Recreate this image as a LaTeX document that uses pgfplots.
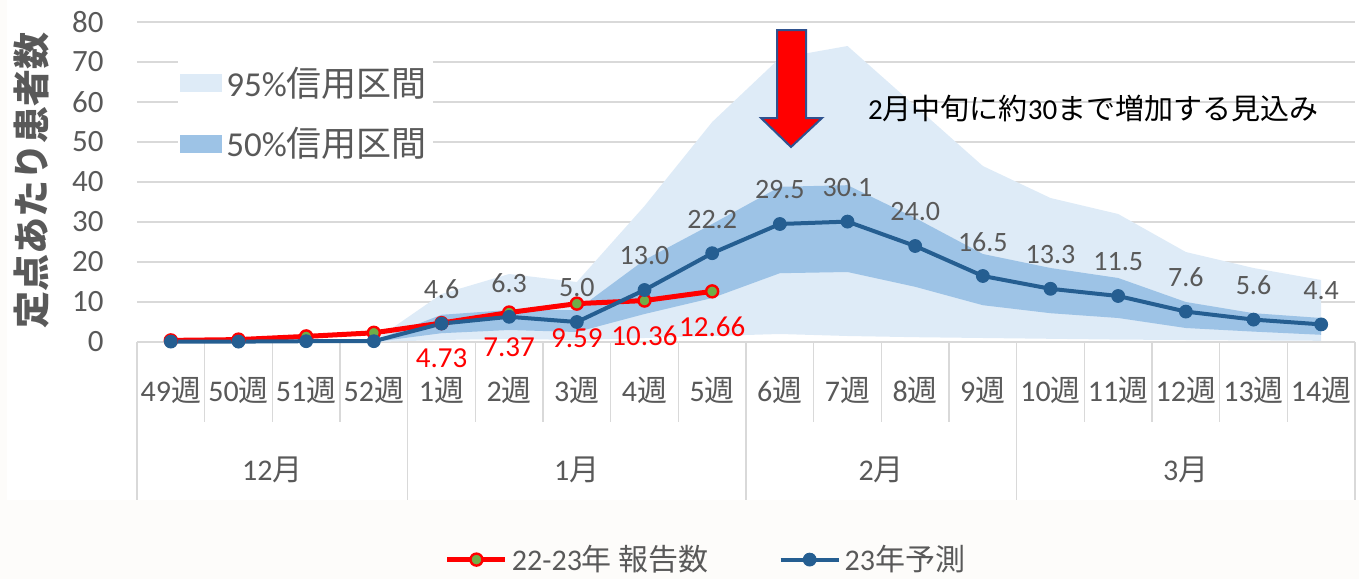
\documentclass[border=0pt]{standalone}
\usepackage{fontspec}
\setmainfont{Carlito}
\newfontfamily\jp{Noto Sans CJK JP}
\usepackage{pgfplots}
\pgfplotsset{compat=1.18}
\usepackage{pgfplotstable}
\usepgfplotslibrary{fillbetween}

\definecolor{c95}{HTML}{DEEBF7}
\definecolor{c50}{HTML}{9DC3E6}
\definecolor{cblue}{HTML}{255E91}
\definecolor{cgreen}{HTML}{70AD47}
\definecolor{tgray}{HTML}{595959}
\definecolor{ggray}{HTML}{D9D9D9}
\definecolor{cream}{HTML}{FDFCFA}
\definecolor{arrowedge}{HTML}{2F528F}

\newcommand\wk[1]{#1{\jp 週}}

\pgfplotstableread{
x y lab
0 0.4 {}
1 0.6 {}
2 1.4 {}
3 2.3 {}
4 4.73 4.73
5 7.37 7.37
6 9.59 9.59
7 10.36 10.36
8 12.66 12.66
}\reddata

\pgfplotstableread{
x y lab
0 0.1 {}
1 0.1 {}
2 0.2 {}
3 0.2 {}
4 4.6 4.6
5 6.3 6.3
6 5.0 5.0
7 13.0 13.0
8 22.2 22.2
9 29.5 29.5
10 30.1 30.1
11 24.0 24.0
12 16.5 16.5
13 13.3 13.3
14 11.5 11.5
15 7.6 7.6
16 5.6 5.6
17 4.4 4.4
}\bluedata

\pgfplotstableread{
x lo95 hi95 lo50 hi50
3 0 0.3 0 0.3
4 0.5 12 2.2 6.8
5 0.8 17 3 8
6 0.5 15 2.5 8
7 1.0 34 7 20.5
8 1.5 55 11 29.5
9 2.0 71 17.2 38.8
10 1.5 74 17.5 39.2
11 1.2 59 13.8 31
12 1.0 44 9.2 22
13 0.8 36 7.2 18.5
14 0.6 32 6 16
15 0.5 22.5 3.5 10
16 0.4 18.5 2.6 7.2
17 0.3 15.5 1.8 6
}\bands

\begin{document}
\begin{tikzpicture}
\fill[cream] (0pt,0pt) rectangle (679.5pt,39.5pt);
\fill[cream] (0pt,0pt) rectangle (3.5pt,289.5pt);
\begin{axis}[
  at={(68.5pt,118.5pt)}, anchor=south west,
  scale only axis, width=609pt, height=160pt,
  xmin=-0.5, xmax=17.5, ymin=0, ymax=80,
  ytick={0,10,...,80},
  xtick={0,...,17},
  xticklabels={\wk{49},\wk{50},\wk{51},\wk{52},\wk{1},\wk{2},\wk{3},\wk{4},\wk{5},\wk{6},\wk{7},\wk{8},\wk{9},\wk{10},\wk{11},\wk{12},\wk{13},\wk{14}},
  ymajorgrids, grid style={ggray, line width=0.8pt},
  axis line style={draw=none},
  major tick length=0pt,
  tick label style={text=tgray},
  xticklabel style={anchor=center, yshift=-24pt, font=\fontsize{15}{15}\selectfont},
  yticklabel style={anchor=east, inner sep=0pt, xshift=-16.5pt, font=\fontsize{15.5}{15.5}\selectfont},
  /pgf/number format/assume math mode=true,
  clip=false,
  ylabel={\jp\bfseries 定点あたり患者数},
  every axis y label/.style={at={(axis description cs:-0.0865,0.506)}, rotate=90, anchor=center, font=\fontsize{18.5}{18.5}\selectfont, text=tgray},
  legend columns=2,
  legend style={at={(axis description cs:0.468,-0.680)}, anchor=center, draw=none, fill=none, inner ysep=0pt, font=\fontsize{15}{15}\selectfont, text=tgray, /tikz/every even column/.append style={column sep=33pt}},
  legend image code/.code={\draw[mark repeat=2,mark phase=2,#1] plot coordinates {(0pt,0pt) (14.5pt,0pt) (29pt,0pt)};},
]
\addplot[draw=none, name path=u95, forget plot] table[x=x,y=hi95]{\bands};
\addplot[draw=none, name path=l95, forget plot] table[x=x,y=lo95]{\bands};
\addplot[fill=c95, draw=none, forget plot] fill between[of=u95 and l95];
\addplot[draw=none, name path=u50, forget plot] table[x=x,y=hi50]{\bands};
\addplot[draw=none, name path=l50, forget plot] table[x=x,y=lo50]{\bands};
\addplot[fill=c50, draw=none, forget plot] fill between[of=u50 and l50];

\draw[ggray, line width=0.8pt]
 (axis cs:-0.5,0) -- (axis cs:-0.5,-39.5)
 (axis cs:3.5,0) -- (axis cs:3.5,-39.5)
 (axis cs:8.5,0) -- (axis cs:8.5,-39.5)
 (axis cs:12.5,0) -- (axis cs:12.5,-39.5)
 (axis cs:17.5,0) -- (axis cs:17.5,-39.5)
 (axis cs:0.5,0) -- (axis cs:0.5,-20)
 (axis cs:1.5,0) -- (axis cs:1.5,-20)
 (axis cs:2.5,0) -- (axis cs:2.5,-20)
 (axis cs:4.5,0) -- (axis cs:4.5,-20)
 (axis cs:5.5,0) -- (axis cs:5.5,-20)
 (axis cs:6.5,0) -- (axis cs:6.5,-20)
 (axis cs:7.5,0) -- (axis cs:7.5,-20)
 (axis cs:9.5,0) -- (axis cs:9.5,-20)
 (axis cs:10.5,0) -- (axis cs:10.5,-20)
 (axis cs:11.5,0) -- (axis cs:11.5,-20)
 (axis cs:13.5,0) -- (axis cs:13.5,-20)
 (axis cs:14.5,0) -- (axis cs:14.5,-20)
 (axis cs:15.5,0) -- (axis cs:15.5,-20)
 (axis cs:16.5,0) -- (axis cs:16.5,-20);

\addplot[red, line width=2.5pt, mark=*, mark size=3pt,
  mark options={fill=cgreen, draw=red, line width=1.2pt},
  point meta=explicit symbolic,
  nodes near coords,
  every node near coord/.append style={anchor=center, yshift=-17.5pt, text=red, font=\fontsize{14.5}{14.5}\selectfont}]
  table[x=x,y=y,meta=lab]{\reddata};
\addlegendentry{22-23{\jp 年 報告数}}

\addplot[cblue, line width=2pt, mark=*, mark size=3.2pt,
  mark options={fill=cblue, draw=cblue, line width=0.5pt},
  point meta=explicit symbolic,
  nodes near coords,
  every node near coord/.append style={anchor=center, yshift=17pt, text=tgray, font=\fontsize{14}{14}\selectfont}]
  table[x=x,y=y,meta=lab]{\bluedata};
\addlegendentry{23{\jp 年予測}}

\node[text=tgray, font=\fontsize{15}{15}\selectfont] at (axis cs:1.5,-32) {12{\jp 月}};
\node[text=tgray, font=\fontsize{15}{15}\selectfont] at (axis cs:6,-32) {1{\jp 月}};
\node[text=tgray, font=\fontsize{15}{15}\selectfont] at (axis cs:10.5,-32) {2{\jp 月}};
\node[text=tgray, font=\fontsize{15}{15}\selectfont] at (axis cs:15,-32) {3{\jp 月}};

\draw[fill=red, draw=arrowedge, line width=1pt]
 (axis cs:8.958,78) -- (axis cs:9.387,78) -- (axis cs:9.387,56) -- (axis cs:9.623,56)
 -- (axis cs:9.165,48.75) -- (axis cs:8.722,56) -- (axis cs:8.958,56) -- cycle;
\node[anchor=west, font=\fontsize{14.5}{14.5}\selectfont, text=black, inner sep=0pt] at (axis cs:10.30,58.5) {2{\jp 月中旬に約}30{\jp まで増加する見込み}};
\end{axis}

\begin{axis}[
  at={(68.5pt,118.5pt)}, anchor=south west,
  scale only axis, width=609pt, height=160pt,
  xmin=-0.5, xmax=17.5, ymin=0, ymax=80,
  hide axis,
  legend cell align=left,
  legend style={at={(axis description cs:0.0337,0.91)}, anchor=north west, draw=none, fill=white,
    font=\fontsize{17.5}{17.5}\selectfont, text=tgray, row sep=10pt, inner xsep=1pt, inner ysep=6pt},
  legend image code/.code={\path[#1] (0pt,-4.5pt) rectangle (21pt,4.5pt);},
]
\addlegendimage{fill=c95, draw=none}
\addlegendentry{95\%{\jp 信用区間}}
\addlegendimage{fill=c50, draw=none}
\addlegendentry{50\%{\jp 信用区間}}
\end{axis}
\pgfresetboundingbox
\useasboundingbox (0pt,0pt) rectangle (679.5pt,289.5pt);
\end{tikzpicture}
\end{document}
